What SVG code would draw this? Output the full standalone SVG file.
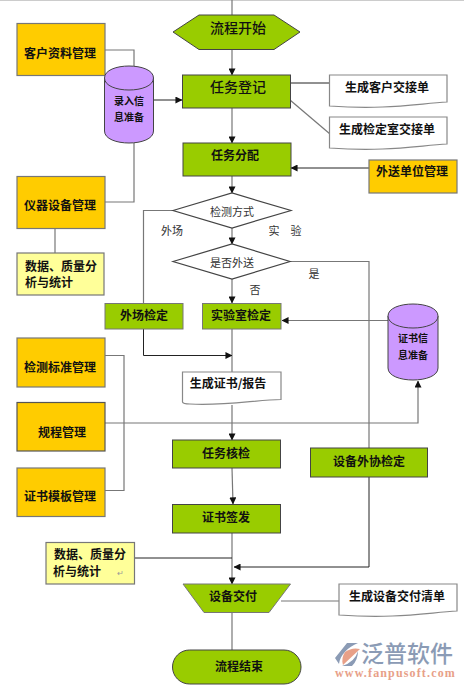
<svg xmlns="http://www.w3.org/2000/svg" width="464" height="687" viewBox="0 0 464 687">
<style>
text{font-family:"Noto Sans CJK SC","Noto Sans",sans-serif;text-anchor:middle;fill:#111}
.t{font-size:12px;font-weight:700}
.l{font-size:14px;font-weight:500}
.n{font-size:11px;fill:#333}
.s{font-size:10px;font-weight:700}
.g{fill:#99cc00;stroke:#444;stroke-width:1}
.o{fill:#ffcc00;stroke:#777;stroke-width:1.2}
.y{fill:#ffff99;stroke:#777;stroke-width:1.2}
.w{fill:#fff;stroke:#888;stroke-width:1.2}
.c{fill:#cc99ff;stroke:#444;stroke-width:1}
.k{fill:none;stroke:#777;stroke-width:1.2}
.d{fill:none;stroke:#222;stroke-width:1}
</style>
<defs>
<marker id="a" viewBox="0 0 8 8" refX="7.5" refY="4" markerWidth="7" markerHeight="7" markerUnits="userSpaceOnUse" orient="auto"><path d="M0 0L8 4L0 8Z" fill="#111"/></marker>
</defs>
<rect width="464" height="1" fill="#ccc"/>
<g id="connectors">
<path class="k" d="M232 0V15"/>
<path class="k" d="M232 49V75" marker-end="url(#a)"/>
<path class="k" d="M232 108V143" marker-end="url(#a)"/>
<path class="k" d="M232 176V193" marker-end="url(#a)"/>
<path class="k" d="M232 228V244" marker-end="url(#a)"/>
<path class="k" d="M232 279V303" marker-end="url(#a)"/>
<path class="k" d="M232 329V372"/>
<path class="k" d="M232 405V440" marker-end="url(#a)"/>
<path class="k" d="M232 468L233 504" marker-end="url(#a)"/>
<path class="k" d="M232 533V584" marker-end="url(#a)"/>
<path class="k" d="M232 612V650"/>
<path class="k" d="M105 50H134V67"/>
<path class="k" d="M134 143V202H105"/>
<path class="k" d="M55 228V253"/>
<path class="d" d="M153 100H182" marker-end="url(#a)"/>
<path class="d" d="M290 83H330"/>
<path class="k" d="M290 100L330 134"/>
<path class="d" d="M369 168H291" marker-end="url(#a)"/>
<path class="k" d="M173 210.500H143.500V303.500"/>
<path class="d" d="M143.500 329V355.500H232" marker-end="url(#a)"/>
<path class="k" d="M290 261.500H369V448"/>
<path class="d" d="M369 477V567H234" marker-end="url(#a)"/>
<path class="k" d="M388 320.500H282" marker-end="url(#a)"/>
<path class="k" d="M105 355.500H124V490.500H105"/>
<path class="k" d="M105 423H418V381" marker-end="url(#a)"/>
<path class="d" d="M134 558H232"/>
<path class="k" d="M281 601H339"/>
</g>
<g id="start"><path class="g" d="M173 32L199 15H274L300 32L274 49.500H199Z"/><text class="l" x="238" y="33">流程开始</text></g>
<g id="register"><rect class="g" x="182.500" y="75" width="108" height="33"/><text class="l" x="238" y="92">任务登记</text></g>
<g id="assign"><rect class="g" x="183" y="143" width="108" height="33"/><text class="t" x="235" y="160">任务分配</text></g>
<g id="customer"><rect class="o" x="17" y="23.500" width="88" height="52"/><text class="t" x="60" y="58">客户资料管理</text></g>
<g id="instrument"><rect class="o" x="17" y="176.500" width="88" height="52"/><text class="t" x="60" y="210">仪器设备管理</text></g>
<g id="input-db"><path class="c" d="M104.500 78C104.500 62 153.500 62 153.500 78V131C153.500 147 104.500 147 104.500 131Z"/><path class="c" d="M104.500 78C104.500 94 153.500 94 153.500 78"/><text class="s" x="129" y="105">录入信</text><text class="s" x="129" y="121">息准备</text></g>
<g id="doc-client"><path class="w" d="M329.500 75H447V102C415 104 385 110 329.500 106Z"/><text class="t" x="387" y="92">生成客户交接单</text></g>
<g id="doc-lab"><path class="w" d="M329.500 117H447V144C415 146 385 152 329.500 148Z"/><text class="t" x="387" y="134">生成检定室交接单</text></g>
<g id="outsource-unit"><rect class="o" x="369" y="160" width="88" height="33"/><text class="t" x="412" y="176">外送单位管理</text></g>
<g id="method"><path class="w" d="M173 210.500L232 193L291 210.500L232 228Z" style="stroke:#444"/><text class="n" x="232" y="216">检测方式</text></g>
<text class="n" x="172" y="235">外场</text>
<text class="n" x="285" y="235">实　验</text>
<g id="send-out"><path class="w" d="M173 261.500L232 244L290 261.500L232 279Z" style="stroke:#444"/><text class="n" x="232" y="267">是否外送</text></g>
<text class="n" x="314" y="278">是</text>
<text class="n" x="255" y="294">否</text>
<g id="stats-1"><rect class="y" x="17" y="253" width="87" height="42"/><text class="t" x="61" y="271">数据、质量分</text><text class="t" x="49" y="287">析与统计</text></g>
<g id="field"><rect class="g" x="105" y="303.500" width="78" height="25.500" style="stroke:#777"/><text class="t" x="144" y="320">外场检定</text></g>
<g id="lab"><rect class="g" x="202.500" y="303.500" width="78.500" height="25.500" style="stroke:#777"/><text class="t" x="241" y="320">实验室检定</text></g>
<g id="cert-db"><path class="c" d="M388 316C388 300 438 300 438 316V368C438 384 388 384 388 368Z"/><path class="c" d="M388 316C388 332 438 332 438 316"/><text class="s" x="413" y="342">证书信</text><text class="s" x="413" y="359">息准备</text></g>
<g id="standard"><rect class="o" x="17" y="338" width="88" height="49"/><text class="t" x="60" y="372">检测标准管理</text></g>
<g id="regulation"><rect class="o" x="17" y="402.500" width="88" height="48.500" style="stroke:#555"/><text class="t" x="62" y="437">规程管理</text></g>
<g id="template"><rect class="o" x="17" y="468" width="88" height="48.500"/><text class="t" x="60" y="501">证书模板管理</text></g>
<g id="doc-report"><path class="w" d="M182.500 372H281V399.500C255 400 225 406 190 404Q183 404 182.500 402Z"/><text class="t" x="228" y="388">生成证书/报告</text></g>
<g id="review"><rect class="g" x="172.500" y="440" width="108" height="28"/><text class="t" x="226" y="458">任务核检</text></g>
<g id="outsource"><rect class="g" x="310.500" y="448" width="117" height="29"/><text class="t" x="369" y="466">设备外协检定</text></g>
<g id="sign"><rect class="g" x="172.500" y="504.500" width="108" height="28.500"/><text class="t" x="226" y="522">证书签发</text></g>
<g id="stats-2"><rect class="y" x="46" y="542.500" width="88.500" height="41.500"/><text class="t" x="90" y="559">数据、质量分</text><text class="t" x="77" y="576">析与统计</text><text x="120" y="576" style="font-size:8px;fill:#999">↵</text></g>
<g id="deliver"><path class="g" d="M183 584H290.500L269 612.500H204Z" style="stroke:#777"/><text class="t" x="233" y="601">设备交付</text></g>
<g id="doc-deliver"><path class="w" d="M339 584H457V611C425 613 395 619 339 615Z"/><text class="t" x="397" y="601">生成设备交付清单</text></g>
<g id="end"><rect class="g" x="172.500" y="650" width="128.500" height="34" rx="17" ry="17"/><text class="t" x="239" y="671">流程结束</text></g>
<path d="M335 658L347 643H358C348 647 340 655 339 664Z" fill="#8b9bb5"/>
<path d="M345 652Q352 647 360 649L343 665Q341 658 345 652Z" fill="#e8a088"/>
<path d="M358 651Q355 662 342 666H352Q358 660 358 651Z" fill="#8b9bb5"/>
<text x="407" y="662" style="font-size:23px;font-weight:500;fill:#8b9bb5">泛普软件</text>
<text x="395.500" y="677" style="font-family:'Liberation Serif',serif;font-size:12px;font-weight:700;letter-spacing:1.15px;fill:#e8a088">www.fanpusoft.com</text>
</svg>
